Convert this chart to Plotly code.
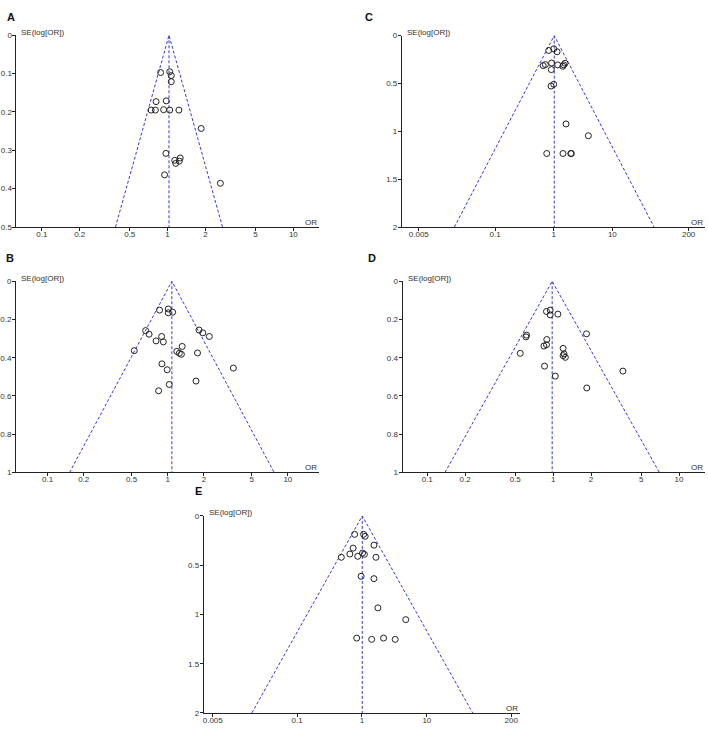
import plotly.graph_objects as go
import math

# ---------------- data ----------------
A_or = [0.88, 1.04, 1.07, 1.07, 0.81, 0.976, 0.74, 0.80, 0.93, 1.04, 1.23, 1.85,
        0.97, 1.14, 1.26, 1.24, 1.16, 0.946, 2.63]
A_se = [0.097, 0.095, 0.105, 0.121, 0.173, 0.171, 0.195, 0.195, 0.194, 0.195, 0.195, 0.243,
        0.308, 0.326, 0.320, 0.328, 0.334, 0.364, 0.386]
A_pooled = 1.026

B_or = [0.855, 1.01, 1.01, 1.10, 0.655, 0.70, 0.89, 0.80, 0.92, 0.527, 1.82, 1.96,
        2.22, 1.32, 1.19, 1.25, 1.30, 1.77, 0.895, 0.99, 3.52, 1.72, 1.03, 0.84]
B_se = [0.151, 0.145, 0.165, 0.162, 0.258, 0.277, 0.289, 0.312, 0.317, 0.363, 0.255, 0.270,
        0.289, 0.341, 0.367, 0.377, 0.382, 0.375, 0.432, 0.463, 0.454, 0.522, 0.540, 0.573]
B_pooled = 1.083

C_or = [0.82, 1.0, 1.14, 0.66, 0.72, 0.92, 0.91, 1.17, 1.43, 1.48, 1.56, 1.0, 0.90,
        1.62, 3.9, 0.76, 1.44, 2.0, 1.95]
C_se = [0.155, 0.138, 0.169, 0.313, 0.303, 0.286, 0.355, 0.306, 0.320, 0.306, 0.289, 0.509,
        0.527, 0.923, 1.046, 1.232, 1.232, 1.232, 1.232]
C_pooled = 1.02

D_or = [0.885, 0.947, 0.947, 1.09, 0.615, 0.608, 1.84, 0.89, 0.885, 0.844, 0.548, 1.20,
        1.22, 1.20, 1.25, 0.854, 1.04, 3.58, 1.85]
D_se = [0.158, 0.151, 0.176, 0.172, 0.282, 0.291, 0.275, 0.305, 0.332, 0.339, 0.377, 0.351,
        0.380, 0.389, 0.398, 0.444, 0.496, 0.470, 0.558]
D_pooled = 0.982

E_or = [0.77, 1.06, 1.12, 1.53, 0.73, 0.65, 0.48, 0.86, 1.02, 1.09, 1.64, 0.97, 1.53,
        1.76, 4.73, 0.83, 1.41, 2.15, 3.25]
E_se = [0.187, 0.187, 0.207, 0.297, 0.327, 0.387, 0.42, 0.41, 0.377, 0.39, 0.42, 0.613, 0.637,
        0.933, 1.053, 1.24, 1.253, 1.24, 1.253]
E_pooled = 1.01

small_ticks = [0.1, 0.2, 0.5, 1, 2, 5, 10]
wide_ticks = [0.005, 0.1, 1, 10, 200]
A_yticks = [0, 0.1, 0.2, 0.3, 0.4, 0.5]
BD_yticks = [0, 0.2, 0.4, 0.6, 0.8, 1]
CE_yticks = [0, 0.5, 1, 1.5, 2]

# ---------------- layout geometry (pixels) ----------------
W, H = 708, 730
panels = [
    # name, or, se, pooled, se_max, xticks, yticks, px x0,x1, py top,bottom, log range
    ("A", A_or, A_se, A_pooled, 0.5, small_ticks, A_yticks, 14.5, 318, 31.7, 225.8, [-1.202, 1.205]),
    ("C", C_or, C_se, C_pooled, 2, wide_ticks, CE_yticks, 401, 705, 32.0, 225.8, [-2.59, 2.58]),
    ("B", B_or, B_se, B_pooled, 1, small_ticks, BD_yticks, 14, 318, 280.7, 474.3, [-1.263, 1.26]),
    ("D", D_or, D_se, D_pooled, 1, small_ticks, BD_yticks, 401.7, 705, 280.7, 474.3, [-1.196, 1.206]),
    ("E", E_or, E_se, E_pooled, 2, wide_ticks, CE_yticks, 202.3, 519.7, 518.3, 717.8, [-2.44, 2.44]),
]
letter_pos = {"A": (9, 13), "C": (368, 13), "B": (8, 257), "D": (371, 257), "E": (197, 493)}

BLUE = "rgb(55,55,225)"
fig = go.Figure()
layout = dict(width=W, height=H, margin=dict(l=0, r=0, t=0, b=0), autosize=False,
              plot_bgcolor="white", paper_bgcolor="white", showlegend=False,
              font=dict(family="Liberation Sans, Arial, sans-serif", size=8, color="#333"))
annotations = []

for i, (name, ors, ses, pooled, semax, xt, yt, x0, x1, yt0, yb, xr) in enumerate(panels):
    k = "" if i == 0 else str(i + 1)
    xa, ya = "x" + k, "y" + k
    layout["xaxis" + k] = dict(
        domain=[x0 / W, x1 / W], anchor=ya, type="log", range=xr,
        tickvals=xt, ticktext=[str(v) for v in xt], showgrid=False, zeroline=False,
        showline=True, linecolor="#222", linewidth=1, ticks="outside", ticklen=3,
        tickcolor="#222", tickfont=dict(size=8, color="#333"), ticklabelstandoff=-4)
    layout["yaxis" + k] = dict(
        domain=[1 - yb / H, 1 - yt0 / H], anchor=xa, range=[semax, 0],
        tickvals=yt, ticktext=[("%g" % v) for v in yt], showgrid=False, zeroline=False,
        showline=True, linecolor="#222", linewidth=1, ticks="outside", ticklen=3,
        tickcolor="#222", tickfont=dict(size=8, color="#333"), ticklabelstandoff=-1)
    # funnel from pooled OR and 95% limits
    lo = math.exp(math.log(pooled) - 1.96 * semax)
    hi = math.exp(math.log(pooled) + 1.96 * semax)
    fig.add_trace(go.Scatter(x=[lo, pooled, hi], y=[semax, 0, semax], mode="lines",
                             line=dict(color=BLUE, width=1, dash="3px,2px"),
                             xaxis=xa, yaxis=ya, hoverinfo="skip", cliponaxis=False))
    fig.add_trace(go.Scatter(x=[pooled, pooled], y=[0, semax], mode="lines",
                             line=dict(color=BLUE, width=1, dash="3px,2px"),
                             xaxis=xa, yaxis=ya, hoverinfo="skip", cliponaxis=False))
    fig.add_trace(go.Scatter(x=ors, y=ses, mode="markers",
                             marker=dict(symbol="circle-open", size=6, color="#222",
                                         line=dict(width=1, color="#222")),
                             xaxis=xa, yaxis=ya, cliponaxis=False))
    annotations.append(dict(xref="paper", yref="paper", x=(x0 + 3) / W, y=1 - (yt0 - 3) / H,
                            xanchor="left", yanchor="middle", showarrow=False,
                            text="SE(log[OR])", font=dict(size=8, color="#333")))
    annotations.append(dict(xref="paper", yref="paper", x=x1 / W, y=1 - (yb - 5) / H,
                            xanchor="right", yanchor="middle", showarrow=False,
                            text="OR", font=dict(size=8, color="#333")))
    lx, ly = letter_pos[name]
    annotations.append(dict(xref="paper", yref="paper", x=lx / W, y=1 - ly / H,
                            xanchor="center", yanchor="middle", showarrow=False,
                            text="<b>%s</b>" % name,
                            font=dict(size=11, color="#111", family="Liberation Sans, Arial")))

layout["annotations"] = annotations
fig.update_layout(**layout)
fig.write_html("out.html", config={"displayModeBar": False},
               post_script="document.body.style.margin='0';document.body.style.overflow='hidden';")
